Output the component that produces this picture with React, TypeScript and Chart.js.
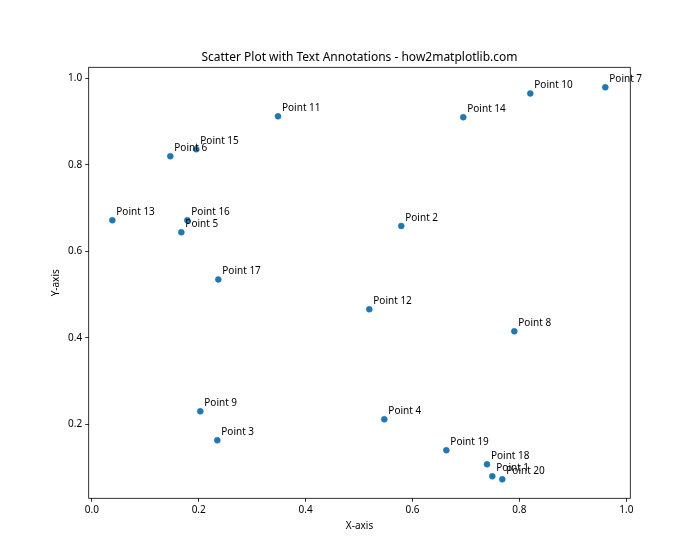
import React, { useEffect, useRef } from "react";
import { Chart, registerables } from "chart.js";

Chart.register(...registerables);

const pointLabels = [
  "Point 1", "Point 2", "Point 3", "Point 4", "Point 5",
  "Point 6", "Point 7", "Point 8", "Point 9", "Point 10",
  "Point 11", "Point 12", "Point 13", "Point 14", "Point 15",
  "Point 16", "Point 17", "Point 18", "Point 19", "Point 20",
];
const xValues = [
  0.7493, 0.579, 0.2348, 0.5473, 0.1675,
  0.1469, 0.9607, 0.7905, 0.203, 0.8204,
  0.3484, 0.5192, 0.0384, 0.695, 0.1955,
  0.1787, 0.2367, 0.7394, 0.6633, 0.768,
];
const yValues = [
  0.0798, 0.6585, 0.163, 0.2116, 0.644,
  0.8197, 0.979, 0.415, 0.23, 0.965,
  0.912, 0.466, 0.6717, 0.91, 0.836,
  0.6717, 0.535, 0.1075, 0.14, 0.0728,
];
const xTicks = [0.0, 0.2, 0.4, 0.6, 0.8, 1.0];
const yTicks = [0.2, 0.4, 0.6, 0.8, 1.0];

const TITLE = "Scatter Plot with Text Annotations - how2matplotlib.com";
const X_LABEL = "X-axis";
const Y_LABEL = "Y-axis";
const FONT = "'Noto Sans', sans-serif";

const overlayPlugin = {
  id: "overlay",
  afterDatasetsDraw(chart: any) {
    const ctx = chart.ctx;
    const area = chart.chartArea;
    const xs = chart.scales.x;
    const ys = chart.scales.y;
    ctx.save();
    // spines
    ctx.strokeStyle = "#000";
    ctx.lineWidth = 0.8;
    ctx.strokeRect(area.left, area.top, area.right - area.left, area.bottom - area.top);
    // annotations
    ctx.fillStyle = "#000";
    ctx.font = `10px ${FONT}`;
    ctx.textAlign = "left";
    ctx.textBaseline = "alphabetic";
    pointLabels.forEach((lab, i) => {
      const px = xs.getPixelForValue(xValues[i]);
      const py = ys.getPixelForValue(yValues[i]);
      ctx.fillText(lab, px + 4, py - 5.5);
    });
    // title
    const cx = (area.left + area.right) / 2;
    ctx.font = `12px ${FONT}`;
    ctx.textAlign = "center";
    ctx.fillText(TITLE, cx, area.top - 6);
    // axis labels
    ctx.font = `10px ${FONT}`;
    ctx.textBaseline = "top";
    ctx.fillText(X_LABEL, cx, area.bottom + 23);
    ctx.save();
    ctx.translate(51.5, (area.top + area.bottom) / 2);
    ctx.rotate(-Math.PI / 2);
    ctx.textBaseline = "top";
    ctx.fillText(Y_LABEL, 0, 0);
    ctx.restore();
    ctx.restore();
  },
};

export default function App() {
  const ref = useRef<HTMLCanvasElement | null>(null);
  useEffect(() => {
    if (!ref.current) return;
    const chart = new Chart(ref.current, {
      type: "scatter",
      data: {
        datasets: [
          {
            data: xValues.map((x, i) => ({ x, y: yValues[i] })),
            backgroundColor: "#1f77b4",
            borderColor: "#1f77b4",
            borderWidth: 0.5,
            pointRadius: 3,
            pointHoverRadius: 3,
          },
        ],
      },
      options: {
        animation: false,
        responsive: false,
        events: [],
        layout: { padding: { top: 67.3, right: 69.7, bottom: 0, left: 0 } },
        plugins: {
          legend: { display: false },
          title: { display: false },
          tooltip: { enabled: false },
        },
        scales: {
          x: {
            type: "linear",
            min: -0.0058,
            max: 1.0075,
            afterFit: (s: any) => { s.height = 61.7; },
            afterBuildTicks: (s: any) => { s.ticks = xTicks.map((v) => ({ value: v })); },
            grid: { drawOnChartArea: false, drawTicks: true, tickLength: 3.5, tickColor: "#000", lineWidth: 0.8 },
            border: { display: false },
            ticks: {
              color: "#000",
              padding: 2.5,
              maxRotation: 0,
              font: { family: "'Noto Sans', sans-serif", size: 10 },
              callback: (v: any) => Number(v).toFixed(1),
            },
          },
          y: {
            type: "linear",
            min: 0.029,
            max: 1.0254,
            afterFit: (s: any) => { s.width = 88.7; },
            afterBuildTicks: (s: any) => { s.ticks = yTicks.map((v) => ({ value: v })); },
            grid: { drawOnChartArea: false, drawTicks: true, tickLength: 3.5, tickColor: "#000", lineWidth: 0.8 },
            border: { display: false },
            ticks: {
              color: "#000",
              padding: 3,
              font: { family: "'Noto Sans', sans-serif", size: 10 },
              callback: (v: any) => Number(v).toFixed(1),
            },
          },
        },
      },
      plugins: [overlayPlugin],
    });
    return () => chart.destroy();
  }, []);
  return (
    <div style={{ position: "fixed", left: 0, top: 0, width: 700, height: 560, background: "#fff" }}>
      <canvas ref={ref} width={700} height={560} style={{ width: 700, height: 560 }} />
    </div>
  );
}
